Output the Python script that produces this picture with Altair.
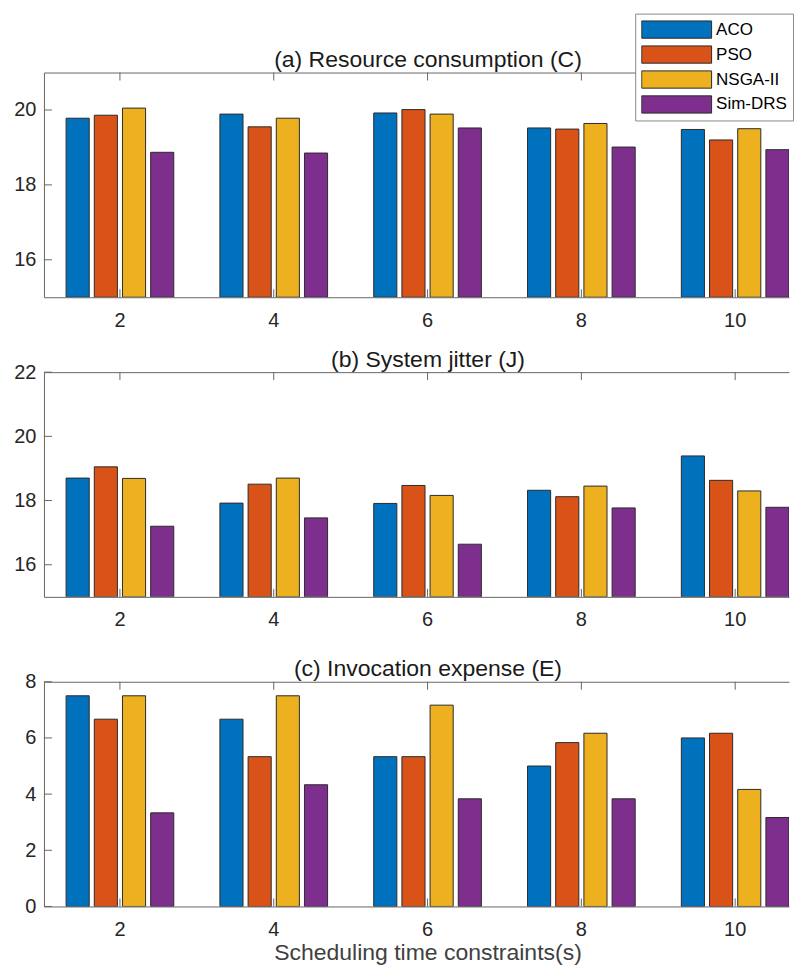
import altair as alt
import pandas as pd

# ---------------- data ----------------
times = ["2", "4", "6", "8", "10"]
methods = ["ACO", "PSO", "NSGA-II", "Sim-DRS"]
palette = ["#0072BD", "#D95319", "#EDB120", "#7E2F8E"]

# (a) Resource consumption (C)
cons_aco = [19.78, 19.89, 19.92, 19.52, 19.48]
cons_pso = [19.86, 19.55, 20.01, 19.49, 19.20]
cons_nsga = [20.05, 19.78, 19.89, 19.64, 19.50]
cons_sim = [18.87, 18.85, 19.52, 19.01, 18.94]

# (b) System jitter (J)
jit_aco = [18.70, 17.92, 17.91, 18.32, 19.39]
jit_pso = [19.05, 18.51, 18.47, 18.12, 18.63]
jit_nsga = [18.69, 18.70, 18.16, 18.45, 18.30]
jit_sim = [17.20, 17.46, 16.64, 17.77, 17.79]

# (c) Invocation expense (E)
exp_aco = [7.5, 6.667, 5.333, 5.0, 6.0]
exp_pso = [6.667, 5.333, 5.333, 5.833, 6.167]
exp_nsga = [7.5, 7.5, 7.167, 6.167, 4.167]
exp_sim = [3.333, 4.333, 3.833, 3.833, 3.167]

ticks_a = [16, 18, 20]
ticks_b = [16, 18, 20, 22]
ticks_c = [0, 2, 4, 6, 8]

# ---------------- helpers ----------------
W, H = 746, 225
FONT = "Liberation Sans"
AXC = "#666666"
TITLE_X = 384


def long_df(series):
    rows = []
    for m, vals in zip(methods, series):
        for t, v in zip(times, vals):
            rows.append({"time": t, "method": m, "value": v})
    return pd.DataFrame(rows)


XSCALE = alt.Scale(paddingInner=0.3, paddingOuter=0.072, align=1)


def panel(series, title, domain, ticks, show_legend=False, xtitle=None):
    df = long_df(series)
    base = domain[0]
    xaxis_kwargs = dict(
        labelAngle=0,
        tickSize=0,
        labelPadding=13,
        labelFontSize=20,
        labelColor="#262626",
        domainColor=AXC,
    )
    if xtitle:
        xaxis_kwargs.update(
            title=xtitle,
            titleFontSize=23,
            titleFontWeight="normal",
            titleColor="#404040",
            titlePadding=2,
            titleX=TITLE_X,
        )
    else:
        xaxis_kwargs.update(title=None)
    xenc = alt.X("time:N", sort=times, scale=XSCALE, axis=alt.Axis(**xaxis_kwargs))
    yenc = alt.Y(
        "value:Q",
        scale=alt.Scale(domain=domain, zero=False, nice=False),
        axis=alt.Axis(
            title=None,
            values=ticks,
            tickSize=0,
            labelPadding=8,
            labelFontSize=20,
            labelColor="#262626",
            domainColor=AXC,
            grid=False,
        ),
    )
    if show_legend:
        legend = alt.Legend(
            title=None,
            orient="none",
            legendX=592,
            legendY=-59,
            symbolType="M-1,-0.247H1V0.247H-1Z",
            symbolSize=4900,
            symbolStrokeColor="#2b2b2b",
            symbolStrokeWidth=1,
            symbolOpacity=1,
            clipHeight=20,
            rowPadding=5,
            labelFontSize=17,
            labelColor="#000000",
            labelOffset=4,
            padding=6,
            strokeColor="#888888",
            fillColor="white",
        )
    else:
        legend = None

    bars = alt.Chart(df).mark_bar(stroke="#2b2b2b", strokeWidth=1, clip=True).encode(
        x=xenc,
        xOffset=alt.XOffset(
            "method:N", sort=methods, scale=alt.Scale(paddingInner=0.18, paddingOuter=0)
        ),
        y=yenc,
        y2=alt.datum(base),
        color=alt.Color(
            "method:N",
            sort=methods,
            scale=alt.Scale(domain=methods, range=palette),
            legend=legend,
        ),
    )

    tdf = pd.DataFrame({"time": times})
    bottom_ticks = alt.Chart(tdf).mark_rule(color=AXC, strokeWidth=1).encode(
        x=alt.X("time:N", sort=times, scale=XSCALE, axis=None),
        y=alt.value(H),
        y2=alt.value(H - 8),
    )
    top_ticks = alt.Chart(tdf).mark_rule(color=AXC, strokeWidth=1).encode(
        x=alt.X(
            "time:N",
            sort=times,
            scale=XSCALE,
            axis=alt.Axis(
                orient="top",
                labels=False,
                ticks=False,
                domainColor=AXC,
                title=title,
                titleFontSize=23,
                titleFontWeight="normal",
                titleColor="#1a1a1a",
                titlePadding=1,
                titleX=TITLE_X,
            ),
        ),
        y=alt.value(0),
        y2=alt.value(8),
    )
    ydf = pd.DataFrame({"value": ticks})
    left_ticks = alt.Chart(ydf).mark_rule(color=AXC, strokeWidth=1).encode(
        y=alt.Y("value:Q", axis=alt.Axis(title=None, values=ticks)),
        x=alt.value(0),
        x2=alt.value(8),
    )

    return (
        alt.layer(bottom_ticks, top_ticks, left_ticks, bars)
        .resolve_axis(x="independent")
        .properties(width=W, height=H)
    )


pa = panel([cons_aco, cons_pso, cons_nsga, cons_sim],
           "(a) Resource consumption (C)", [15, 21], ticks_a, show_legend=True)
pb = panel([jit_aco, jit_pso, jit_nsga, jit_sim],
           "(b) System jitter (J)", [15, 22], ticks_b)
pc = panel([exp_aco, exp_pso, exp_nsga, exp_sim],
           "(c) Invocation expense (E)", [0, 8], ticks_c,
           xtitle="Scheduling time constraints(s)")

inner = alt.vconcat(pa, pb, spacing=18).resolve_legend(color="independent")
chart = (
    alt.vconcat(inner, pc, spacing=28)
    .resolve_legend(color="independent")
    .properties(padding={"left": 5, "top": 4, "right": 0, "bottom": 0})
    .configure(font=FONT)
    .configure_view(stroke=None)
    .configure_axis(domainWidth=1)
)

chart.save("out.html", embed_options={"renderer": "svg", "actions": False})
